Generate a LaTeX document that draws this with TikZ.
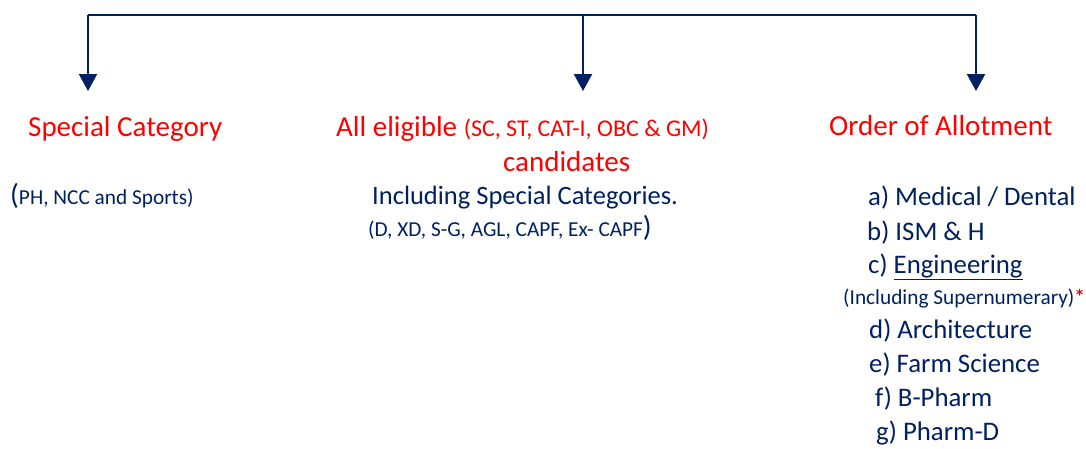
\documentclass[tikz,border=0pt]{standalone}
\usepackage{fontspec}
\setmainfont{Carlito}
\usetikzlibrary{arrows.meta}

\definecolor{navy}{HTML}{002060}

\tikzset{
  link/.style={draw=navy, line width=2.2pt},
  arr/.style={link, -{Triangle[width=18pt,length=17pt]}},
  head/.style={anchor=base west, inner sep=0pt, text=red, font=\fontsize{29}{35}\selectfont},
  item/.style={anchor=base west, inner sep=0pt, text=navy, font=\fontsize{26.8}{32}\selectfont},
  note/.style={anchor=base west, inner sep=0pt, text=navy, font=\fontsize{21.3}{25}\selectfont}
}

\newcommand{\bigpar}[1]{{\fontsize{29}{33}\selectfont #1}}

\begin{document}
\begin{tikzpicture}[x=1pt, y=-1pt]

\useasboundingbox (0,0) rectangle (1086,448);

% Top bar and arrow tips
\coordinate (barL) at (88,15);
\coordinate (barM) at (583,15);
\coordinate (barR) at (976,15);
\coordinate (tipL) at (88,91);
\coordinate (tipM) at (583,91);
\coordinate (tipR) at (976,91);

\draw[link] (barL) -- (barR);
\draw[arr] (barL) -- (tipL);
\draw[arr] (barM) -- (tipM);
\draw[arr] (barR) -- (tipR);

% Left column
\node[head] (special) at (28,136) {Special Category};
\node[note] (specialsub) at (10,204) {\bigpar{(}PH, NCC and Sports)};

% Middle column
\node[head] (eligible) at (336,136) {All eligible {\fontsize{24}{28}\selectfont (SC, ST, CAT-I, OBC \& GM)}};
\node[head] (cand) at (503,171) {candidates};
\node[item, font=\fontsize{26.5}{31}\selectfont] (incl) at (372,204) {Including Special Categories.};
\node[note] (inclsub) at (368,236) {(D, XD, S-G, AGL, CAPF, Ex- CAPF\bigpar{)}};

% Right column
\node[head] (order) at (829,135) {Order of Allotment};
\node[item] (ia) at (868,205) {a) Medical / Dental};
\node[item] (ib) at (867,240) {b) ISM \& H};
\node[item] (ic) at (868,273) {c) \underline{Engineering}};
\node[note] (icsub) at (843,304) {(Including Supernumerary){\color{red}\textbf{*}}};
\node[item] (id) at (869,338) {d) Architecture};
\node[item] (ie) at (869,372) {e) Farm Science};
\node[item] (if) at (875,406) {f) B-Pharm};
\node[item] (ig) at (876,440) {g) Pharm-D};

\end{tikzpicture}
\end{document}
